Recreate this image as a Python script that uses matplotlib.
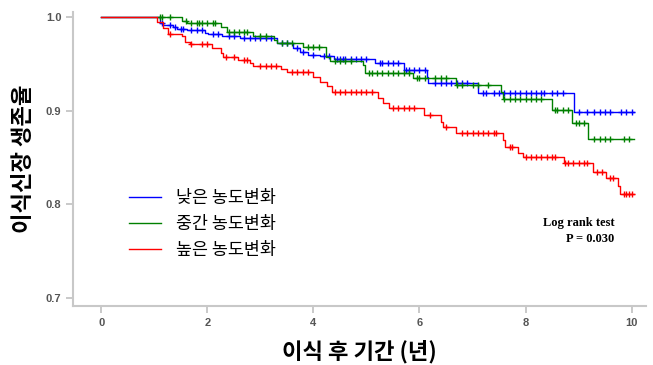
import numpy as np
import matplotlib
matplotlib.use('Agg')
import matplotlib.pyplot as plt

plt.rcParams['font.family'] = ['Noto Sans CJK KR', 'DejaVu Sans']

# step times and survival after each drop
low_t = [1.11, 1.17, 1.36, 1.43, 1.62, 1.96, 2.02, 2.28, 2.62, 3.32, 3.62, 3.75, 3.89,
         4.13, 4.38, 5.17, 5.70, 6.15, 6.17, 7.11, 8.92]
low_s = [0.9936, 0.9915, 0.989, 0.987, 0.986, 0.983, 0.982, 0.980, 0.978, 0.972, 0.967,
         0.963, 0.959, 0.958, 0.955, 0.951, 0.943, 0.936, 0.930, 0.919, 0.899]
low_cens = [1.15, 1.3, 1.4, 1.5, 1.55, 1.7, 1.8, 1.9, 2.1, 2.2, 2.4, 2.5, 2.7, 2.8, 2.9, 3.0,
            3.1, 3.2, 3.4, 3.5, 3.7, 3.8, 4.0, 4.2, 4.3, 4.45, 4.5, 4.55, 4.6, 4.7, 4.8,
            4.9, 5.0, 5.25, 5.3, 5.4, 5.5, 5.6, 5.75, 5.8, 5.9, 6.0, 6.1, 6.3, 6.4, 6.5,
            6.6, 6.7, 6.8, 6.9, 7.2, 7.25, 7.4, 7.5, 7.6, 7.7, 7.8, 7.9, 8.0, 8.1, 8.2,
            8.3, 8.35, 8.5, 8.6, 8.7, 9.0, 9.15, 9.3, 9.4, 9.5, 9.6, 9.8, 9.9, 10.0]

mid_t = [1.53, 1.62, 2.25, 2.38, 2.87, 3.25, 3.32, 3.81, 4.23, 4.32, 4.94, 4.98, 5.87,
         6.68, 7.53, 7.57, 8.49, 8.87, 9.17]
mid_s = [0.996, 0.994, 0.989, 0.984, 0.980, 0.975, 0.972, 0.968, 0.957, 0.953, 0.949,
         0.940, 0.935, 0.927, 0.920, 0.912, 0.901, 0.887, 0.870]
mid_cens = [1.1, 1.15, 1.3, 1.6, 1.7, 1.8, 1.85, 1.9, 2.0, 2.1, 2.15, 2.4, 2.5, 2.6, 2.7,
            2.75, 3.0, 3.1, 3.4, 3.5, 3.6, 3.9, 4.0, 4.1, 4.4, 4.5, 4.6, 4.7, 5.05, 5.1,
            5.2, 5.3, 5.4, 5.5, 5.6, 5.7, 5.8, 5.95, 6.0, 6.1, 6.3, 6.4, 6.5, 6.7, 6.8,
            7.0, 7.1, 7.3, 7.6, 7.7, 7.8, 7.9, 8.0, 8.1, 8.2, 8.3, 8.55, 8.6, 8.7, 8.8,
            8.95, 9.0, 9.1, 9.3, 9.4, 9.5, 9.6, 9.85, 9.95]

high_t = [1.06, 1.17, 1.25, 1.53, 1.58, 1.68, 2.09, 2.25, 2.30, 2.57, 2.81, 2.87, 3.38,
          3.51, 4.0, 4.13, 4.26, 4.36, 5.21, 5.32, 5.42, 6.08, 6.40, 6.45, 6.68, 7.57,
          7.62, 7.85, 7.96, 8.72, 9.28, 9.51, 9.75, 9.79]
high_s = [0.9947, 0.988, 0.982, 0.980, 0.973, 0.971, 0.967, 0.962, 0.957, 0.954, 0.951,
          0.948, 0.945, 0.941, 0.936, 0.931, 0.926, 0.920, 0.914, 0.908, 0.903, 0.895,
          0.888, 0.883, 0.876, 0.869, 0.861, 0.855, 0.851, 0.844, 0.835, 0.828, 0.819,
          0.811]
high_cens = [1.3, 1.7, 1.9, 2.0, 2.35, 2.5, 2.7, 2.75, 3.0, 3.1, 3.2, 3.3, 3.6, 3.7, 3.8,
             3.9, 4.4, 4.5, 4.6, 4.7, 4.8, 4.9, 5.0, 5.1, 5.5, 5.6, 5.7, 5.8, 5.9, 6.2,
             6.5, 6.8, 6.9, 7.0, 7.1, 7.2, 7.3, 7.4, 7.45, 7.7, 7.75, 8.0, 8.1, 8.2, 8.3,
             8.4, 8.5, 8.55, 8.75, 8.8, 8.9, 9.0, 9.1, 9.15, 9.35, 9.45, 9.6, 9.65, 9.85,
             9.9, 9.95, 10.0]

labels = ['낮은 농도변화', '중간 농도변화', '높은 농도변화']
colors = ['#0000ff', '#008000', '#ff0000']
end_time = 10.05


def draw_km(ax, tt, ss, cens, color, label):
    xs = np.array([0.0] + tt + [end_time])
    ys = np.array([1.0] + ss + [ss[-1]])
    ax.step(xs, ys, where='post', color=color, lw=1.0, label=label)
    idx = np.searchsorted(xs, cens, side='right') - 1
    ax.plot(cens, ys[idx], ls='none', marker='+', ms=4.5, mew=1.0, color=color)


fig = plt.figure(figsize=(6.53, 3.65), dpi=100)
ax = fig.add_axes([0.112, 0.162, 0.878, 0.805])

draw_km(ax, low_t, low_s, low_cens, colors[0], labels[0])
draw_km(ax, mid_t, mid_s, mid_cens, colors[1], labels[1])
draw_km(ax, high_t, high_s, high_cens, colors[2], labels[2])

ax.set_xlim(-0.53, 10.28)
ax.set_ylim(0.6915, 1.0053)
ax.set_xticks([0, 2, 4, 6, 8, 10])
ax.set_yticks([0.7, 0.8, 0.9, 1.0])
ax.set_yticklabels(['0.7', '0.8', '0.9', '1.0'])
for lab in ax.get_xticklabels() + ax.get_yticklabels():
    lab.set_fontfamily('Liberation Sans')
    lab.set_fontweight('bold')
ax.tick_params(colors='#c0c0c0', labelcolor='#555555', labelsize=8, length=5, width=1.2)

for side in ['top', 'right']:
    ax.spines[side].set_visible(False)
for side in ['left', 'bottom']:
    ax.spines[side].set_color('#c8c8c8')
    ax.spines[side].set_linewidth(1.5)

ax.set_xlabel('이식 후 기간 (년)', fontsize=16, fontweight='bold', labelpad=9)
ax.set_ylabel('이식신장 생존율', fontsize=16, fontweight='bold', labelpad=8)

handles, _ = ax.get_legend_handles_labels()
ax.legend(handles, labels, loc='upper left', bbox_to_anchor=(0.077, 0.44), frameon=False,
          fontsize=12.5, handlelength=1.8, handletextpad=0.9, labelspacing=0.48,
          borderaxespad=0.3)

ax.text(9.68, 0.786, 'Log rank test\nP = 0.030', ha='right', va='top', fontsize=9,
        fontweight='bold', family='Liberation Serif', linespacing=1.45)

fig.savefig('out.png', dpi=100)
